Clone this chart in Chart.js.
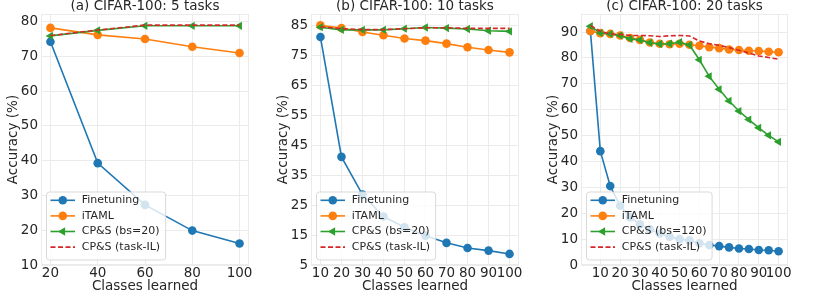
<!DOCTYPE html>
<html>
<head>
<meta charset="utf-8">
<script src="https://cdn.jsdelivr.net/npm/chart.js@4.4.0/dist/chart.umd.min.js"></script>
<style>
  body { margin: 0; background: #fff; width: 830px; height: 293px; overflow: hidden; position: relative; }
  canvas { position: absolute; top: 0; }
</style>
</head>
<body>
<canvas id="graficoA" width="270" height="293" style="left:0"></canvas>
<canvas id="graficoB" width="270" height="293" style="left:270px"></canvas>
<canvas id="graficoC" width="290" height="293" style="left:540px"></canvas>
<script>
// (a) 5 tareas
const clasesA = [20, 40, 60, 80, 100];
const finetuningA = [74.2, 39.3, 27.3, 19.9, 16.2];
const itamlA = [78.2, 76.2, 75.0, 72.8, 71.0];
const cpsA = [75.9, 77.5, 78.8, 78.8, 78.8];
const taskIlA = [76.0, 77.6, 79.0, 79.0, 79.0];
const ticksXA = [20, 40, 60, 80, 100];
const ticksYA = [10, 20, 30, 40, 50, 60, 70, 80];

// (b) 10 tareas
const clasesB = [10, 20, 30, 40, 50, 60, 70, 80, 90, 100];
const finetuningB = [81.1, 41.1, 28.5, 21.2, 17.6, 14.8, 12.4, 10.7, 9.8, 8.7];
const itamlB = [85.0, 84.1, 82.8, 81.7, 80.6, 79.9, 78.9, 77.7, 76.8, 76.0];
const cpsB = [84.4, 83.5, 83.5, 83.5, 83.9, 84.3, 84.1, 83.8, 83.2, 83.0];
const taskIlB = [84.5, 83.9, 83.6, 83.6, 83.9, 84.2, 84.2, 84.0, 84.0, 84.0];
const ticksXB = [10, 20, 30, 40, 50, 60, 70, 80, 90, 100];
const ticksYB = [5, 15, 25, 35, 45, 55, 65, 75, 85];

// (c) 20 tareas
const clasesC = [5, 10, 15, 20, 25, 30, 35, 40, 45, 50, 55, 60, 65, 70, 75, 80, 85, 90, 95, 100];
const finetuningC = [90.4, 44.0, 30.5, 22.9, 18.5, 15.7, 13.8, 12.2, 10.9, 10.0, 9.5, 8.4, 7.7, 7.3, 6.8, 6.4, 6.2, 5.8, 5.7, 5.3];
const itamlC = [90.4, 89.6, 89.3, 88.7, 87.7, 87.0, 86.0, 85.5, 85.3, 85.5, 85.1, 84.7, 84.2, 83.8, 83.3, 83.1, 82.8, 82.7, 82.4, 82.2];
const cpsC = [92.3, 89.7, 89.3, 88.7, 87.4, 87.0, 85.9, 85.4, 85.5, 86.1, 85.0, 79.3, 72.9, 67.9, 63.4, 59.5, 56.2, 53.0, 50.1, 47.6];
const taskIlC = [92.6, 90.3, 89.3, 89.1, 88.7, 88.7, 88.6, 88.3, 88.6, 88.7, 88.5, 86.6, 85.5, 84.9, 84.0, 83.0, 81.9, 80.8, 80.2, 79.5];
const ticksXC = [10, 20, 30, 40, 50, 60, 70, 80, 90, 100];
const ticksYC = [0, 10, 20, 30, 40, 50, 60, 70, 80, 90];

const FUENTE = "'DejaVu Sans', sans-serif";
const TEXTO = '#262626';
const GRILLA = '#ebebeb';

Chart.defaults.font.family = FUENTE;

function puntos(xs, ys) {
  return xs.map((x, i) => ({ x, y: ys[i] }));
}

function serie(label, xs, ys, color, extra) {
  return Object.assign({
    label,
    data: puntos(xs, ys),
    borderColor: color,
    backgroundColor: color,
    borderWidth: 1.6,
    pointRadius: 4.3,
    pointBorderWidth: 0,
    pointStyle: 'circle',
    tension: 0
  }, extra);
}

const marcoYLeyenda = {
  id: 'marcoYLeyenda',
  beforeDatasetsDraw(chart) {
    const { ctx, chartArea: a } = chart;
    ctx.save();
    ctx.strokeStyle = GRILLA;
    ctx.lineWidth = 1;
    ctx.strokeRect(a.left + 0.5, a.top + 0.5, a.right - a.left - 1, a.bottom - a.top - 1);
    ctx.restore();
  },
  afterDatasetsDraw(chart) {
    const { ctx, chartArea: a } = chart;
    const sets = chart.data.datasets;
    ctx.save();
    ctx.font = "11px " + FUENTE;
    const anchoTexto = Math.max(...sets.map(d => ctx.measureText(d.label).width));
    const x0 = a.left + 5;
    const alto = 68;
    const y0 = a.bottom - 5.5 - alto;
    const ancho = 35.7 + anchoTexto + 5;

    ctx.beginPath();
    ctx.roundRect(x0 + 0.5, y0 + 0.5, ancho, alto, 3);
    ctx.fillStyle = 'rgba(255,255,255,0.8)';
    ctx.fill();
    ctx.strokeStyle = '#d9d9d9';
    ctx.lineWidth = 1;
    ctx.stroke();

    sets.forEach((d, i) => {
      const y = y0 + 8.8 + i * 15.6;
      ctx.beginPath();
      ctx.setLineDash(d.borderDash || []);
      ctx.strokeStyle = d.borderColor;
      ctx.lineWidth = d.borderWidth;
      ctx.moveTo(a.left + 9.5, y);
      ctx.lineTo(a.left + 34, y);
      ctx.stroke();
      ctx.setLineDash([]);
      if (d.pointRadius > 0) {
        ctx.fillStyle = d.backgroundColor;
        Chart.helpers.drawPoint(ctx, {
          pointStyle: d.pointStyle,
          rotation: d.pointRotation || 0,
          radius: d.pointRadius,
          borderWidth: 0
        }, a.left + 21.75, y);
      }
      ctx.fillStyle = TEXTO;
      ctx.textBaseline = 'middle';
      ctx.textAlign = 'left';
      ctx.fillText(d.label, a.left + 40.7, y);
    });
    ctx.restore();
  }
};

function crearGrafico(id, cfg) {
  const ctx = document.getElementById(id).getContext('2d');
  const etiquetaCps = cfg.etiquetaCps;
  new Chart(ctx, {
    type: 'line',
    data: {
      datasets: [
        serie('Finetuning', cfg.clases, cfg.finetuning, '#1f77b4', { order: 4 }),
        serie('iTAML', cfg.clases, cfg.itaml, '#ff7f0e', { order: 3 }),
        serie(etiquetaCps, cfg.clases, cfg.cps, '#2ca02c', { order: 2, pointStyle: 'triangle', pointRotation: -90, pointRadius: 4.8 }),
        serie('CP&S (task-IL)', cfg.clases, cfg.taskIl, '#d62728', { order: 1, pointRadius: 0, borderDash: [5, 2.5] })
      ]
    },
    options: {
      responsive: false,
      animation: false,
      layout: { padding: { left: 0, right: cfg.derecha, top: 0, bottom: 0 } },
      plugins: {
        legend: { display: false },
        tooltip: { enabled: false },
        title: {
          display: true,
          text: cfg.titulo,
          color: TEXTO,
          fullSize: false,
          font: { size: 13.5, weight: 'normal', lineHeight: 1 },
          padding: { top: 0, bottom: 0.5 }
        }
      },
      scales: {
        x: {
          type: 'linear',
          min: cfg.xMin,
          max: cfg.xMax,
          afterBuildTicks: s => { s.ticks = cfg.ticksX.map(v => ({ value: v })); },
          afterFit: s => { s.height = 28; },
          grid: { color: GRILLA, drawTicks: false },
          border: { display: false },
          ticks: { color: TEXTO, font: { size: 13.5 }, padding: 0, autoSkip: false, maxRotation: 0, minRotation: 0 },
          title: { display: true, text: 'Classes learned', color: TEXTO, font: { size: 13.5, lineHeight: 0.9 }, padding: 0 }
        },
        y: {
          type: 'linear',
          min: cfg.yMin,
          max: cfg.yMax,
          afterBuildTicks: s => { s.ticks = cfg.ticksY.map(v => ({ value: v })); },
          afterFit: s => { s.width = 41; },
          grid: { color: GRILLA, drawTicks: false },
          border: { display: false },
          ticks: { color: TEXTO, font: { size: 13.5 }, padding: 3, autoSkip: false },
          title: { display: true, text: 'Accuracy (%)', color: TEXTO, font: { size: 13.5, lineHeight: 1.2 }, padding: { top: 5.4, bottom: 0 } }
        }
      }
    },
    plugins: [marcoYLeyenda]
  });
}

document.addEventListener('DOMContentLoaded', () => {
  crearGrafico('graficoA', {
    titulo: '(a) CIFAR-100: 5 tasks', etiquetaCps: 'CP&S (bs=20)',
    clases: clasesA, finetuning: finetuningA, itaml: itamlA, cps: cpsA, taskIl: taskIlA,
    ticksX: ticksXA, ticksY: ticksYA, xMin: 16, xMax: 104, yMin: 10, yMax: 82.2, derecha: 21
  });
  crearGrafico('graficoB', {
    titulo: '(b) CIFAR-100: 10 tasks', etiquetaCps: 'CP&S (bs=20)',
    clases: clasesB, finetuning: finetuningB, itaml: itamlB, cps: cpsB, taskIl: taskIlB,
    ticksX: ticksXB, ticksY: ticksYB, xMin: 5.5, xMax: 104.5, yMin: 5, yMax: 88.8, derecha: 21
  });
  crearGrafico('graficoC', {
    titulo: '(c) CIFAR-100: 20 tasks', etiquetaCps: 'CP&S (bs=120)',
    clases: clasesC, finetuning: finetuningC, itaml: itamlC, cps: cpsC, taskIl: taskIlC,
    ticksX: ticksXC, ticksY: ticksYC, xMin: 0.25, xMax: 104.75, yMin: 0, yMax: 97, derecha: 42
  });
});
</script>
</body>
</html>
